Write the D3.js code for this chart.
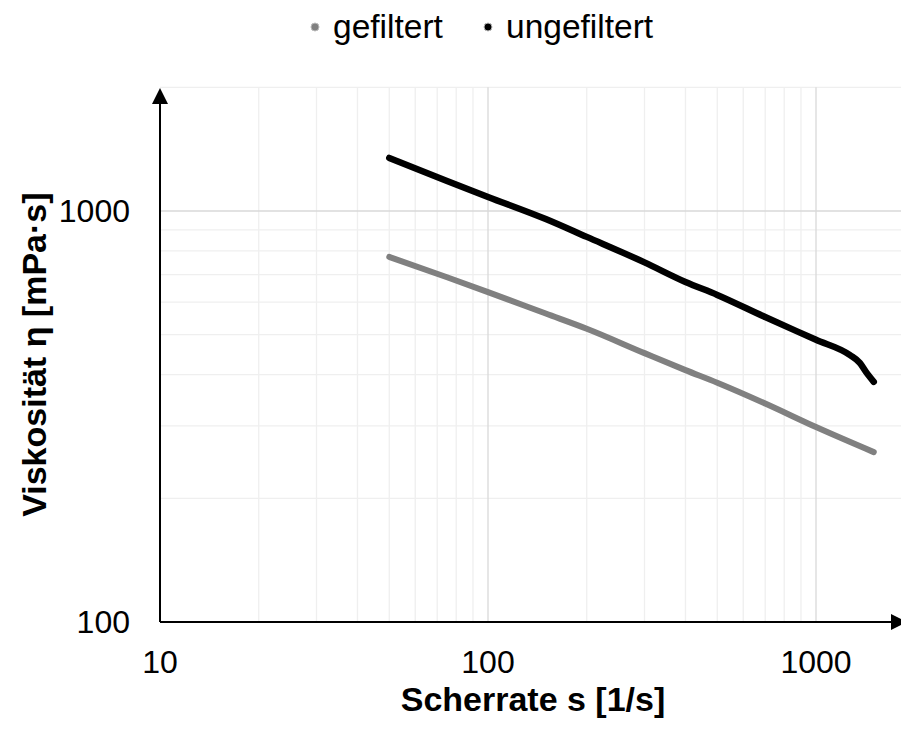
<!DOCTYPE html>
<meta charset="utf-8">
<body style="margin:0">
<script src="https://d3js.org/d3.v7.min.js"></script>
<script>

// shear rate [1/s] and viscosity [mPa·s]
var rateUngef = [50, 75, 100, 150, 200, 300, 400, 500, 700, 1000, 1270, 1360, 1420, 1500]
var etaUngef  = [1346, 1183, 1082, 956, 865, 750, 672, 625, 552, 486, 446, 427, 406, 384]
var rateGef   = [50, 75, 100, 150, 200, 300, 400, 500, 700, 1000, 1500]
var etaGef    = [773, 690, 635, 563, 517, 451, 410, 382, 340, 298, 259]

var xTicks = [10, 100, 1000]
var yTicks = [100, 1000]
var xMinor = [20,30,40,50,60,70,80,90,200,300,400,500,600,700,800,900]
var yMinor = [200,300,400,500,600,700,800,900,2000]

var seriesNames = ['gefiltert', 'ungefiltert']
var seriesColors = ['#808080', '#000000']

var W = 901, H = 729
var FONT = 'Liberation Sans, Arial, sans-serif'

var svg = d3.select('body').append('svg')
  .attr('width', W).attr('height', H)
  .style('background', '#fff')

var x = d3.scaleLog().domain([10, 1000]).range([160, 816])
var y = d3.scaleLog().domain([100, 1000]).range([622, 211])
var xEnd = 907, yTop = 88

// grid
var g = svg.append('g')
g.selectAll('.vmin').data(xMinor).enter().append('line')
  .attr('x1', d => x(d)).attr('x2', d => x(d))
  .attr('y1', y(2000)).attr('y2', y(100))
  .attr('stroke', '#efefef').attr('stroke-width', 1.3)
g.selectAll('.hmin').data(yMinor).enter().append('line')
  .attr('x1', x(10)).attr('x2', xEnd)
  .attr('y1', d => y(d)).attr('y2', d => y(d))
  .attr('stroke', '#efefef').attr('stroke-width', 1.3)
g.selectAll('.vmaj').data(xTicks.slice(1)).enter().append('line')
  .attr('x1', d => x(d)).attr('x2', d => x(d))
  .attr('y1', y(2000)).attr('y2', y(100))
  .attr('stroke', '#d9d9d9').attr('stroke-width', 1.3)
g.selectAll('.hmaj').data(yTicks.slice(1)).enter().append('line')
  .attr('x1', x(10)).attr('x2', xEnd)
  .attr('y1', d => y(d)).attr('y2', d => y(d))
  .attr('stroke', '#d9d9d9').attr('stroke-width', 1.3)

// series
var line = d3.line().x(d => x(d[0])).y(d => y(d[1])).curve(d3.curveMonotoneX)
var data = [d3.zip(rateGef, etaGef), d3.zip(rateUngef, etaUngef)]
var widths = [6, 6.5]
data.forEach((pts, i) => {
  svg.append('path').datum(pts)
    .attr('d', line)
    .attr('fill', 'none')
    .attr('stroke', seriesColors[i])
    .attr('stroke-width', widths[i])
    .attr('stroke-linecap', 'round')
    .attr('stroke-linejoin', 'round')
})

// axes with arrows
var ax = svg.append('g').attr('stroke', '#000').attr('stroke-width', 2)
ax.append('line').attr('x1', x(10)).attr('x2', x(10)).attr('y1', y(100)).attr('y2', yTop + 10)
ax.append('line').attr('x1', x(10)).attr('x2', xEnd - 10).attr('y1', y(100)).attr('y2', y(100))
svg.append('path')
  .attr('d', `M${x(10)},${yTop} l-8,16 l16,0 z`).attr('fill', '#000')
svg.append('path')
  .attr('d', `M${xEnd},${y(100)} l-16,-8 l0,16 z`).attr('fill', '#000')

// tick labels
svg.selectAll('.xl').data(xTicks).enter().append('text')
  .attr('x', d => x(d)).attr('y', 673)
  .attr('text-anchor', 'middle')
  .attr('font-family', FONT).attr('font-size', 32).attr('fill', '#000')
  .text(d => d)
svg.selectAll('.yl').data(yTicks).enter().append('text')
  .attr('x', 130).attr('y', d => y(d))
  .attr('dy', '0.35em')
  .attr('text-anchor', 'end')
  .attr('font-family', FONT).attr('font-size', 32).attr('fill', '#000')
  .text(d => d)

// axis titles
svg.append('text')
  .attr('x', 533).attr('y', 711)
  .attr('text-anchor', 'middle')
  .attr('font-family', FONT).attr('font-size', 34).attr('font-weight', 'bold')
  .text('Scherrate s [1/s]')
svg.append('text')
  .attr('transform', `translate(46,${(y(100) + y(2000)) / 2}) rotate(-90)`)
  .attr('text-anchor', 'middle')
  .attr('font-family', FONT).attr('font-size', 34).attr('font-weight', 'bold')
  .text('Viskosität η [mPa·s]')

// legend
var legX = [315, 488]
seriesNames.forEach((n, i) => {
  svg.append('circle').attr('cx', legX[i]).attr('cy', 27).attr('r', 4)
    .attr('fill', seriesColors[i]).attr('stroke', '#bbb').attr('stroke-width', 1)
  svg.append('text').attr('x', legX[i] + 18).attr('y', 38)
    .attr('font-family', FONT).attr('font-size', 33.5).attr('fill', '#000')
    .text(n)
})

</script>
</body>
</html>
